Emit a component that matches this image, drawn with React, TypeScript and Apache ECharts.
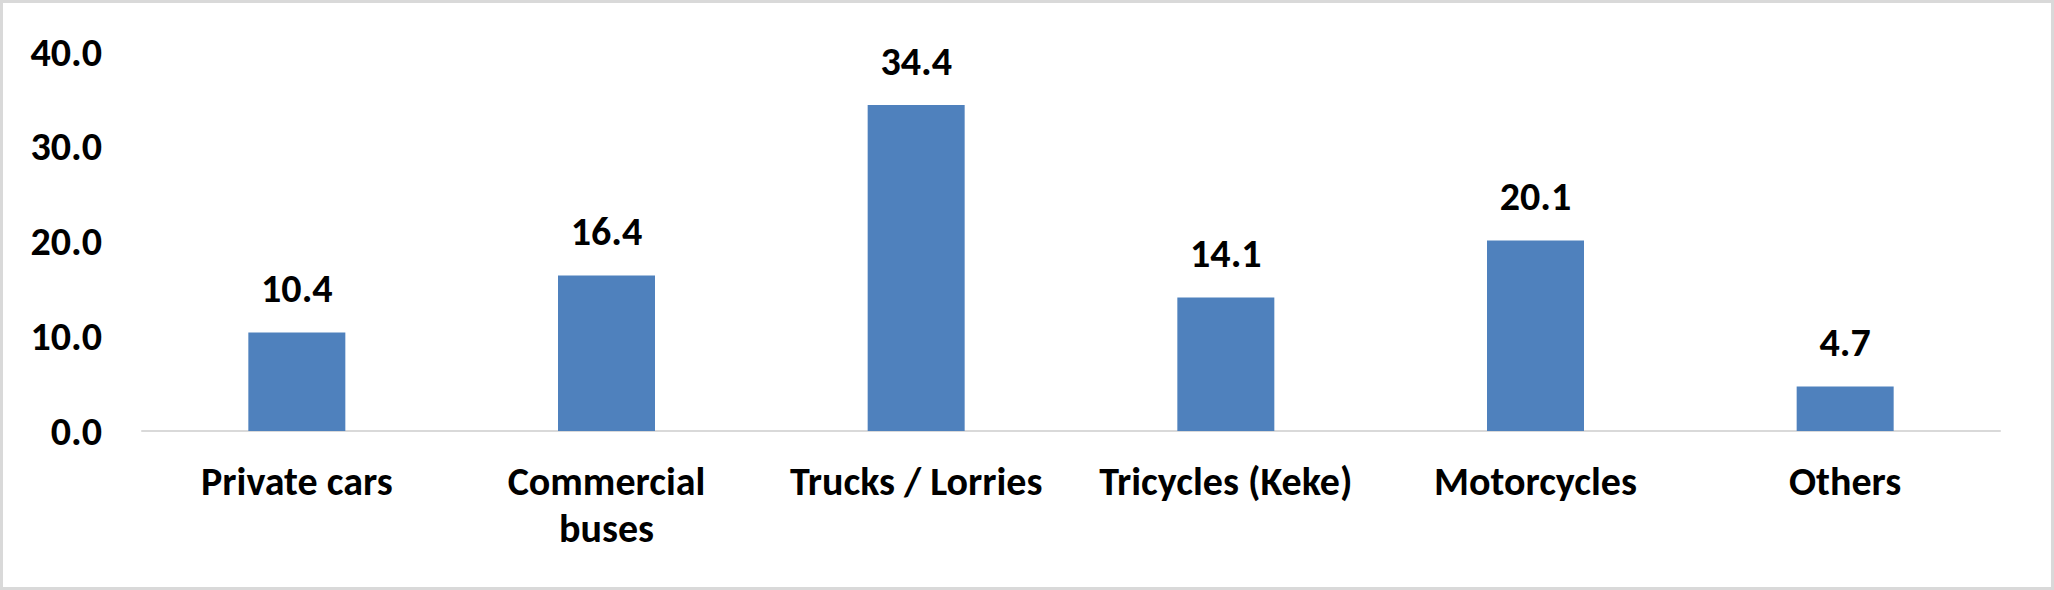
import { useEffect, useRef } from 'react'
import * as echarts from 'echarts'

const categories = [
  'Private cars',
  'Commercial\nbuses',
  'Trucks / Lorries',
  'Tricycles (Keke)',
  'Motorcycles',
  'Others',
]
const shares = [10.4, 16.4, 34.4, 14.1, 20.1, 4.7]
const yTicks = [0, 10, 20, 30, 40]

const FONT = "Carlito, 'Liberation Sans', Arial, sans-serif"

export default function App() {
  const chartRef = useRef<HTMLDivElement>(null)

  useEffect(() => {
    document.body.style.margin = '0'
    if (!chartRef.current) return

    const chart = echarts.init(chartRef.current, undefined, { renderer: 'svg' })

    chart.setOption({
      animation: false,
      backgroundColor: '#fff',
      grid: { left: 142, right: 54, top: 52, bottom: 159 },
      graphic: [
        {
          type: 'rect',
          shape: { x: 1.5, y: 1.5, width: 2051, height: 587 },
          style: { fill: 'none', stroke: '#d9d9d9', lineWidth: 3 },
          silent: true,
        },
      ],
      xAxis: {
        type: 'category',
        data: categories,
        axisLine: { show: true, lineStyle: { color: '#d9d9d9', width: 2 } },
        axisTick: { show: false },
        axisLabel: {
          color: '#000',
          fontFamily: FONT,
          fontWeight: 'bold',
          fontSize: 40,
          lineHeight: 47,
          margin: 27,
          interval: 0,
        },
      },
      yAxis: {
        type: 'value',
        min: yTicks[0],
        max: yTicks[yTicks.length - 1],
        interval: 10,
        axisLine: { show: false },
        axisTick: { show: false },
        splitLine: { show: false },
        axisLabel: {
          color: '#000',
          fontFamily: FONT,
          fontWeight: 'bold',
          fontSize: 40,
          margin: 40,
          formatter: (v: number) => v.toFixed(1),
        },
      },
      series: [
        {
          type: 'bar',
          data: shares,
          barWidth: 97,
          itemStyle: { color: '#4f81bd' },
          label: {
            show: true,
            position: 'top',
            distance: 24,
            color: '#000',
            fontFamily: FONT,
            fontWeight: 'bold',
            fontSize: 40,
            formatter: (p: any) => Number(p.value).toFixed(1),
          },
        },
      ],
    })

    return () => {
      chart.dispose()
    }
  }, [])

  return <div ref={chartRef} style={{ width: 2054, height: 590 }} />
}
